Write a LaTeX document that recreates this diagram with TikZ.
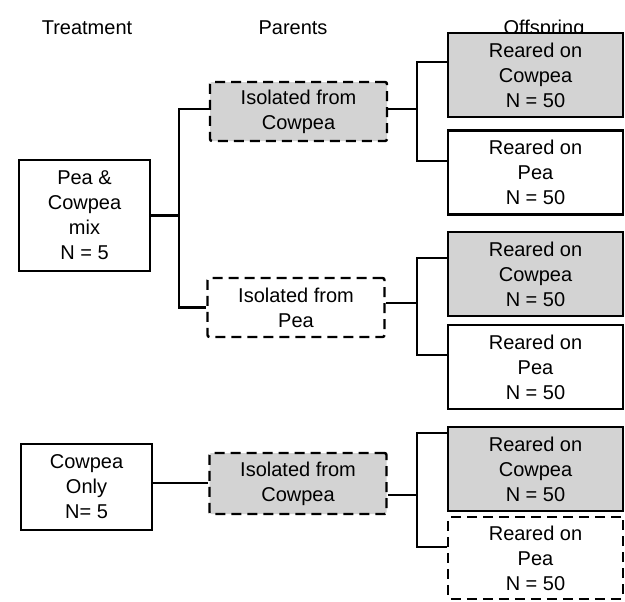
\documentclass[tikz,border=0pt]{standalone}
\usepackage{fontspec}
\setmainfont{Liberation Sans}
\usepackage{tikz}
\usetikzlibrary{calc}

\definecolor{boxgray}{RGB}{211,211,211}

\begin{document}
\begin{tikzpicture}[
		x=0.5pt, y=-0.5pt,
		font=\fontsize{10}{12.5}\selectfont,
		box/.style={draw, line width=1.2pt, align=center, inner sep=0pt},
		dashbox/.style={box, dash pattern=on 5pt off 3pt, rounded corners=1pt},
		grey/.style={fill=boxgray},
		heading/.style={anchor=base},
		link/.style={line width=1.1pt}
	]
	\useasboundingbox (0,0) rectangle (625,601);

	\def\tW{65.5pt} % width of the treatment boxes
	\def\pW{88.5pt} % width of the parent boxes
	\def\pH{29.5pt} % height of the parent boxes
	\def\oW{87.5pt} % width of the offspring boxes
	\def\oH{42pt} % height of the offspring boxes

	% column headings
	\node[heading] (hTreat) at (87,34) {Treatment};
	\node[heading] (hPar) at (293,34) {Parents};
	\node[heading] (hOff) at (544,34) {Offspring};

	% treatments
	\node[box, minimum width=\tW, minimum height=55.5pt] (mix) at (84.5,215.5) {Pea \&\\Cowpea\\mix\\N = 5};
	\node[box, minimum width=\tW, minimum height=43pt] (only) at (86.5,487) {Cowpea\\Only\\N= 5};

	% parents
	\node[dashbox, grey, minimum width=\pW, minimum height=\pH] (par1) at (298.5,111.5) {Isolated from\\Cowpea};
	\node[dashbox, minimum width=\pW, minimum height=\pH] (par2) at (296,307.5) {Isolated from\\Pea};
	\node[dashbox, grey, minimum width=\pW, minimum height=30.5pt] (par3) at (298,483.5) {Isolated from\\Cowpea};

	% offspring
	\node[box, grey, minimum width=\oW, minimum height=\oH] (off1) at (535.5,75) {Reared on\\Cowpea\\N = 50};
	\node[box, minimum width=\oW, minimum height=\oH] (off2) at (535.5,172.5) {Reared on\\Pea\\N = 50};
	\node[box, grey, minimum width=\oW, minimum height=\oH] (off3) at (535.5,274) {Reared on\\Cowpea\\N = 50};
	\node[box, minimum width=\oW, minimum height=\oH] (off4) at (535.5,367) {Reared on\\Pea\\N = 50};
	\node[box, grey, minimum width=\oW, minimum height=\oH] (off5) at (535.5,469) {Reared on\\Cowpea\\N = 50};
	\node[dashbox, minimum width=\oW, minimum height=41pt] (off6) at (535.5,558) {Reared on\\Pea\\N = 50};

	% x positions of the forks
	\coordinate (forkA) at (179,0);
	\coordinate (forkB) at (417,0);

	% treatment to parents
	\draw[link] (mix.east) -- (mix.east -| forkA);
	\draw[link] ([yshift=1.25pt]par1.west) -| (mix.east -| forkA) |- (par2.west);
	\draw[link] ([yshift=2pt]only.east) -- ([yshift=2pt]only.east -| par3.west);

	% parents to offspring
	\draw[link] ([yshift=1.25pt]par1.east) -- ([yshift=1.25pt]par1.east -| forkB);
	\draw[link] ([yshift=6.5pt]off1.west) -| ([yshift=1.25pt]par1.east -| forkB) |- ([yshift=5.75pt]off2.west);
	\draw[link] ([yshift=2.25pt]par2.east) -- ([yshift=2.25pt]par2.east -| forkB);
	\draw[link] ([yshift=8pt]off3.west) -| ([yshift=2.25pt]par2.east -| forkB) |- ([yshift=6pt]off4.west);
	\draw[link] ([yshift=-5.75pt]par3.east) -- ([yshift=-5.75pt]par3.east -| forkB);
	\draw[link] ([yshift=18pt]off5.west) -| ([yshift=-5.75pt]par3.east -| forkB) |- ([yshift=5.5pt]off6.west);

\end{tikzpicture}
\end{document}
